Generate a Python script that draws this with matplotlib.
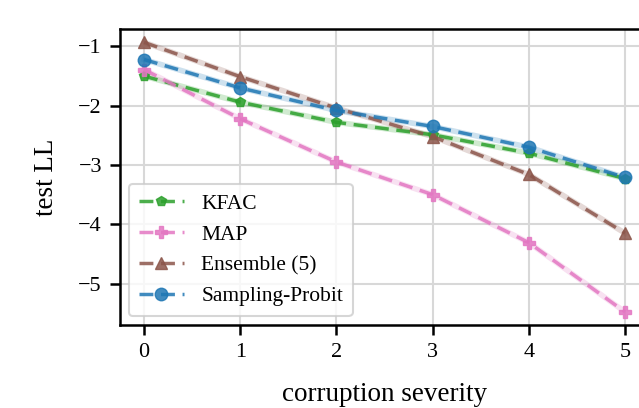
import matplotlib
matplotlib.use("Agg")
import matplotlib.pyplot as plt

plt.rcParams['font.family'] = ['Liberation Serif', 'DejaVu Serif']

severity = [0, 1, 2, 3, 4, 5]
kfac = [-1.50, -1.94, -2.28, -2.49, -2.80, -3.23]
map_ = [-1.39, -2.22, -2.95, -3.50, -4.31, -5.48]
ensemble = [-0.93, -1.51, -2.04, -2.52, -3.16, -4.15]
sampling_probit = [-1.22, -1.70, -2.08, -2.35, -2.70, -3.21]

names = ["KFAC", "MAP", "Ensemble (5)", "Sampling-Probit"]
series = [kfac, map_, ensemble, sampling_probit]
colors = ["#2ca02c", "#e377c2", "#8c564b", "#1f77b4"]
markers = ["p", "P", "^", "o"]
msizes = [7, 9, 8, 9]

fig = plt.figure(figsize=(6.39, 4.08), dpi=100)
ax = fig.add_axes([0.1878, 0.2034, 0.828, 0.7248])

for name, vals, c, m, ms in zip(names, series, colors, markers, msizes):
    ax.plot(severity, vals, '-', color=c, lw=4, alpha=0.22, zorder=2)
    ax.plot(severity, vals, '--', color=c, lw=2.5, marker=m, ms=ms,
            alpha=0.85, label=name, zorder=3, dashes=(4, 2.2))

ax.set_xlim(-0.25, 5.25)
ax.set_ylim(-5.70, -0.71)
ax.set_xticks(severity)
ax.set_yticks([-5, -4, -3, -2, -1])
ax.grid(True, color="#d8d8d8", lw=1.5)
ax.set_axisbelow(True)
for s in ax.spines.values():
    s.set_linewidth(1.8)
ax.tick_params(axis='both', labelsize=16, width=1.8, length=7, direction='out', pad=6)
ax.set_xlabel("corruption severity", fontsize=19.5, labelpad=14)
ax.set_ylabel("test LL", fontsize=19.5, labelpad=14)

leg = ax.legend(loc='lower left', fontsize=15.5, framealpha=0.8,
                edgecolor="#cccccc", fancybox=True, borderaxespad=0.42,
                handlelength=2.1, labelspacing=0.5, borderpad=0.45)
leg.get_frame().set_linewidth(1.5)

fig.savefig("out.png", dpi=100)
